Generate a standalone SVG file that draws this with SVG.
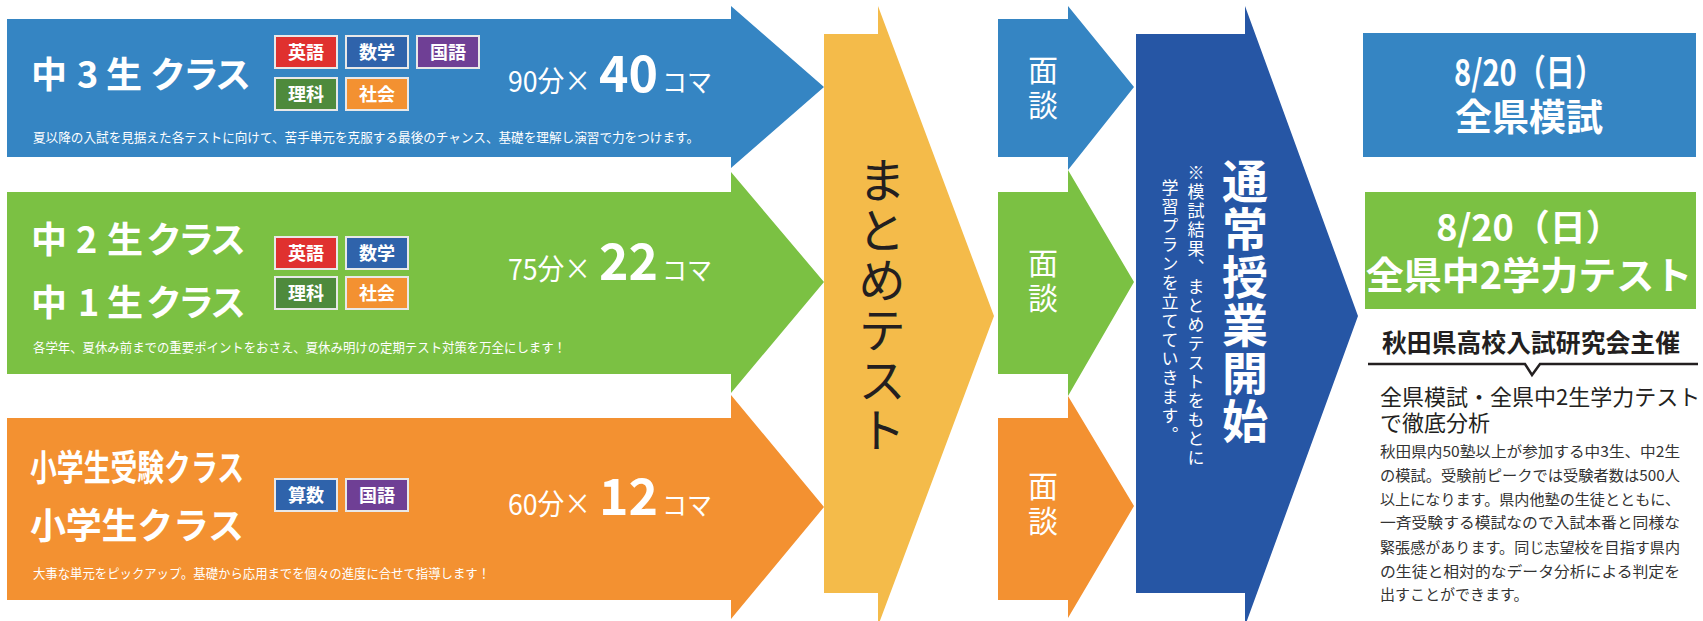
<svg xmlns="http://www.w3.org/2000/svg" width="1703" height="621" viewBox="0 0 1703 621">
<style>
text{font-family:"Noto Sans CJK JP","Noto Sans",sans-serif}
.w{fill:#fff}
.h{fill:#fff;font-weight:700;font-size:36px}
.badge rect{stroke:#e8e8e8;stroke-width:2}
.badge text{fill:#fff;font-weight:700;font-size:18px;text-anchor:middle}
.desc{fill:#fff;font-size:13px}
.n1{fill:#fff;font-size:29px}
.n2{fill:#fff;font-size:50px;font-weight:700}
.n3{fill:#fff;font-size:26px}
.md{fill:#fff;font-size:30px;writing-mode:vertical-rl;text-anchor:middle}
.vt{writing-mode:vertical-rl;text-anchor:middle}
.body{fill:#333;font-size:15px}
</style>
<defs>
<g id="b-eng" class="badge"><rect x="0" y="0" width="62" height="32" fill="#e0312f"/><text x="31" y="23">英語</text></g>
<g id="b-math" class="badge"><rect x="0" y="0" width="62" height="32" fill="#2f63ab"/><text x="31" y="23">数学</text></g>
<g id="b-jp" class="badge"><rect x="0" y="0" width="62" height="32" fill="#6f3f95"/><text x="31" y="23">国語</text></g>
<g id="b-sci" class="badge"><rect x="0" y="0" width="62" height="32" fill="#4e8a3c"/><text x="31" y="23">理科</text></g>
<g id="b-soc" class="badge"><rect x="0" y="0" width="62" height="32" fill="#f39131"/><text x="31" y="23">社会</text></g>
<g id="b-arith" class="badge"><rect x="0" y="0" width="62" height="32" fill="#2f63ab"/><text x="31" y="23">算数</text></g>
</defs>

<g id="class3">
<polygon points="7,19 731,19 731,6 824,87 731,168 731,157 7,157" fill="#3585c3"/>
<text class="h" x="31 77 106 142 150 183 215" y="88">中3生 クラス</text>
<use href="#b-eng" x="275" y="36"/><use href="#b-math" x="346" y="36"/><use href="#b-jp" x="417" y="36"/>
<use href="#b-sci" x="275" y="78"/><use href="#b-soc" x="346" y="78"/>
<text class="n1" x="508" y="92" textLength="83" lengthAdjust="spacingAndGlyphs">90分×</text>
<text class="n2" x="599" y="92" textLength="59" lengthAdjust="spacingAndGlyphs">40</text>
<text class="n3" x="662" y="92" textLength="50" lengthAdjust="spacingAndGlyphs">コマ</text>
<text class="desc" x="33" y="142" textLength="666" lengthAdjust="spacingAndGlyphs">夏以降の入試を見据えた各テストに向けて、苦手単元を克服する最後のチャンス、基礎を理解し演習で力をつけます。</text>
</g>

<g id="class21">
<polygon points="7,192 731,192 731,172 824,282 731,393 731,374 7,374" fill="#7bc143"/>
<text class="h" x="31 76 107 146 178 210" y="253">中2生クラス</text>
<text class="h" x="31 78 107 146 178 210" y="316">中1生クラス</text>
<use href="#b-eng" x="275" y="237"/><use href="#b-math" x="346" y="237"/>
<use href="#b-sci" x="275" y="277"/><use href="#b-soc" x="346" y="277"/>
<text class="n1" x="508" y="280" textLength="83" lengthAdjust="spacingAndGlyphs">75分×</text>
<text class="n2" x="599" y="280" textLength="59" lengthAdjust="spacingAndGlyphs">22</text>
<text class="n3" x="662" y="280" textLength="50" lengthAdjust="spacingAndGlyphs">コマ</text>
<text class="desc" x="33" y="352" textLength="533" lengthAdjust="spacingAndGlyphs">各学年、夏休み前までの重要ポイントをおさえ、夏休み明けの定期テスト対策を万全にします！</text>
</g>

<g id="classEl">
<polygon points="7,418 731,418 731,395 824,507 731,619 731,600 7,600" fill="#f39131"/>
<text class="h" x="30" y="481" font-size="34" textLength="214" lengthAdjust="spacingAndGlyphs">小学生受験クラス</text>
<text class="h" x="30" y="539" font-size="34" textLength="214" lengthAdjust="spacing">小学生クラス</text>
<use href="#b-arith" x="275" y="479"/><use href="#b-jp" x="346" y="479"/>
<text class="n1" x="508" y="515" textLength="83" lengthAdjust="spacingAndGlyphs">60分×</text>
<text class="n2" x="599" y="515" textLength="59" lengthAdjust="spacingAndGlyphs">12</text>
<text class="n3" x="662" y="515" textLength="50" lengthAdjust="spacingAndGlyphs">コマ</text>
<text class="desc" x="33" y="578" textLength="457" lengthAdjust="spacingAndGlyphs">大事な単元をピックアップ。基礎から応用までを個々の進度に合せて指導します！</text>
</g>

<g id="matome">
<polygon points="824,34 878,34 878,6 994,316 878,626 878,593 824,593" fill="#f4bb4a"/>
<text class="vt" x="882" y="306" font-size="48" letter-spacing="2" fill="#231f20">まとめテスト</text>
</g>

<g id="mendan1">
<polygon points="998,19 1068,19 1068,6 1134,87 1068,170 1068,157 998,157" fill="#3585c3"/>
<text class="md" x="1043" y="90" letter-spacing="5">面談</text>
</g>
<g id="mendan2">
<polygon points="998,192 1068,192 1068,170 1134,282 1068,396 1068,374 998,374" fill="#7bc143"/>
<text class="md" x="1043" y="283" letter-spacing="5">面談</text>
</g>
<g id="mendan3">
<polygon points="998,418 1068,418 1068,396 1134,506 1068,618 1068,600 998,600" fill="#f39131"/>
<text class="md" x="1043" y="506" letter-spacing="5">面談</text>
</g>

<g id="tsujo">
<polygon points="1136,34 1245,34 1245,6 1358,316 1245,626 1245,593 1136,593" fill="#2656a5"/>
<text class="vt" x="1245" y="302" font-size="46" font-weight="700" letter-spacing="2" fill="#fff">通常授業開始</text>
<text class="vt" x="1196" y="316" font-size="17" letter-spacing="2" fill="#fff">※模試結果、まとめテストをもとに</text>
<text class="vt" x="1170" y="312" font-size="17" letter-spacing="2" fill="#fff">学習プランを立てていきます。</text>
</g>

<g id="zenken">
<rect x="1363" y="33" width="333" height="124" fill="#3585c3"/>
<text font-weight="700" fill="#fff" text-anchor="middle"><tspan x="1529" y="86" font-size="36" textLength="150" lengthAdjust="spacingAndGlyphs">8/20（日）</tspan><tspan x="1529" y="131" font-size="37">全県模試</tspan></text>
</g>
<g id="zenken2">
<rect x="1365" y="192" width="331" height="117" fill="#7bc143"/>
<text font-weight="700" fill="#fff" text-anchor="middle"><tspan x="1529" y="241" font-size="36">8/20（日）</tspan><tspan x="1529" y="289" font-size="38">全県中2学力テスト</tspan></text>
</g>

<g id="info">
<text x="1531" y="352" font-size="25" font-weight="700" fill="#231f20" text-anchor="middle" textLength="298" lengthAdjust="spacingAndGlyphs">秋田県高校入試研究会主催</text>
<polyline points="1368,364 1525,364 1532,375 1540,364 1698,364" fill="none" stroke="#231f20" stroke-width="2.5"/>
<text font-size="22" fill="#231f20"><tspan x="1380" y="405">全県模試・全県中2生学力テスト</tspan><tspan x="1380" y="431">で徹底分析</tspan></text>
<text class="body" x="1380" y="457" textLength="300" lengthAdjust="spacingAndGlyphs">秋田県内50塾以上が参加する中3生、中2生</text>
<text class="body" x="1380" y="481" textLength="300" lengthAdjust="spacingAndGlyphs">の模試。受験前ピークでは受験者数は500人</text>
<text class="body" x="1380" y="505" textLength="300" lengthAdjust="spacingAndGlyphs">以上になります。県内他塾の生徒とともに、</text>
<text class="body" x="1380" y="528" textLength="300" lengthAdjust="spacingAndGlyphs">一斉受験する模試なので入試本番と同様な</text>
<text class="body" x="1380" y="553" textLength="300" lengthAdjust="spacingAndGlyphs">緊張感があります。同じ志望校を目指す県内</text>
<text class="body" x="1380" y="577" textLength="300" lengthAdjust="spacingAndGlyphs">の生徒と相対的なデータ分析による判定を</text>
<text class="body" x="1380" y="600">出すことができます。</text>
</g>
</svg>
